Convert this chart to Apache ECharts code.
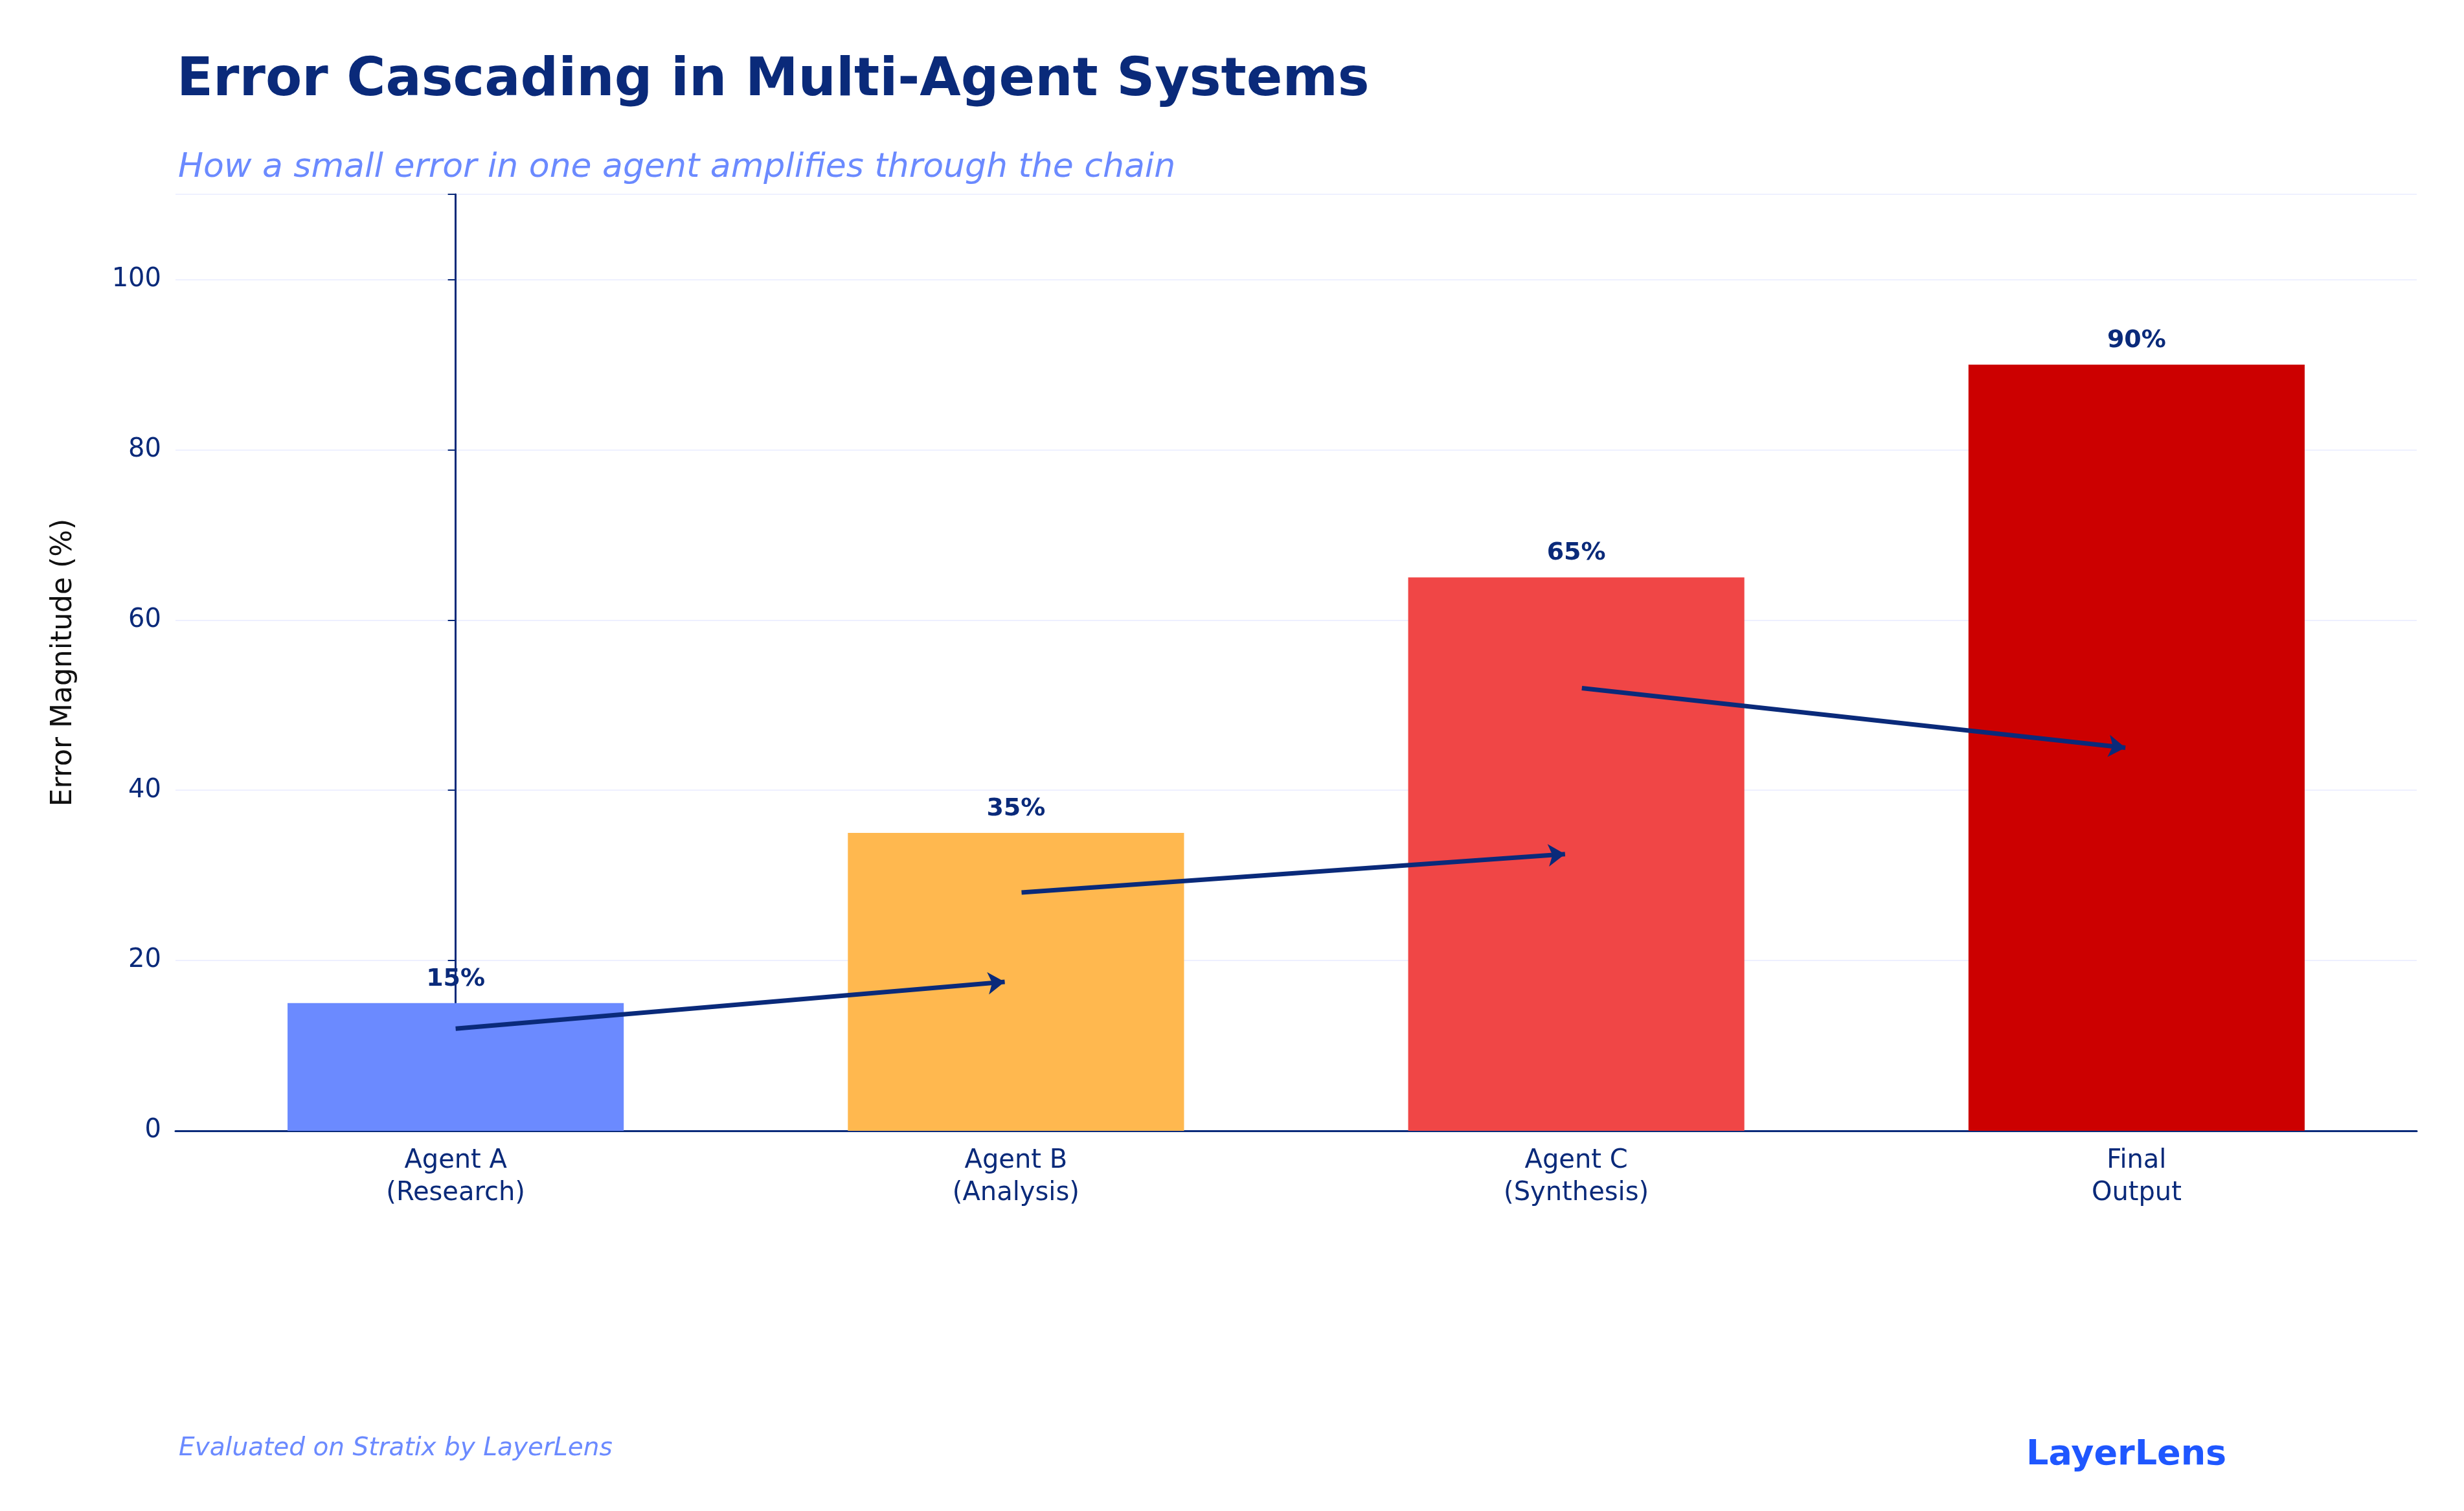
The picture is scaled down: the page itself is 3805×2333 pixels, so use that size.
<!DOCTYPE html>
<html><head><meta charset="utf-8">
<script src="https://cdn.jsdelivr.net/npm/echarts@6/dist/echarts.min.js"></script>
<style>html,body{margin:0;padding:0;background:#fff}#c{width:3805px;height:2333px}</style>
</head><body><div id="c"></div>
<script>
const categories = ['Agent A\n(Research)', 'Agent B\n(Analysis)', 'Agent C\n(Synthesis)', 'Final\nOutput'];
const errorValues = [15, 35, 65, 90];
const barColors = ['#6b8aff', '#ffb84f', '#f04646', '#cc0000'];
const arrowSegments = [
  [[0.0, 12], [0.98, 17.5]],
  [[1.01, 28], [1.98, 32.5]],
  [[2.01, 52], [2.98, 45]]
];
const navy = '#0a2a7a';
const chart = echarts.init(document.getElementById('c'));
chart.setOption({
  backgroundColor: '#fff',
  animation: false,
  textStyle: {fontFamily: 'DejaVu Sans'},
  title: [
    {text: 'Error Cascading in Multi-Agent Systems', left: 268, top: 80,
     textStyle: {fontSize: 82, fontWeight: 'bold', color: navy, fontFamily: 'DejaVu Sans'}},
    {text: 'How a small error in one agent amplifies through the chain', left: 270, top: 228,
     textStyle: {fontSize: 52, fontStyle: 'italic', fontWeight: 'normal', color: '#6b8aff', fontFamily: 'DejaVu Sans'}},
    {text: 'Evaluated on Stratix by LayerLens', left: 271, top: 2212,
     textStyle: {fontSize: 39, fontStyle: 'italic', fontWeight: 'normal', color: '#6b8aff', fontFamily: 'DejaVu Sans'}},
    {text: 'LayerLens', left: 3124, top: 2215,
     textStyle: {fontSize: 54, fontWeight: 'bold', color: '#1f57ff', fontFamily: 'DejaVu Sans'}}
  ],
  grid: {left: 271, right: 73, top: 300, bottom: 587},
  xAxis: [
    {type: 'category', data: categories,
     axisLine: {lineStyle: {color: navy, width: 3}},
     axisTick: {alignWithLabel: true, length: 12, lineStyle: {color: navy, width: 2}},
     axisLabel: {fontSize: 40, color: navy, lineHeight: 50, margin: 22}},
    {type: 'value', min: -0.5, max: 3.5, show: false}
  ],
  yAxis: {
    type: 'value', min: 0, max: 110, interval: 20,
    name: 'Error Magnitude (%)', nameLocation: 'middle', nameGap: 150, nameRotate: 90,
    nameTextStyle: {fontSize: 44, color: '#111'},
    axisLine: {show: true, lineStyle: {color: navy, width: 3}},
    axisTick: {show: true, length: 12, lineStyle: {color: navy, width: 2}},
    axisLabel: {fontSize: 40, color: navy, margin: 22,
      formatter: v => v > 100 ? '' : v},
    splitLine: {lineStyle: {color: '#eef0ff', width: 2}}
  },
  series: [
    {type: 'bar', data: errorValues.map((v, i) => ({value: v, itemStyle: {color: barColors[i]}})),
     barWidth: '60%',
     label: {show: true, position: 'top', distance: 18, formatter: '{c}%',
       fontSize: 38, fontWeight: 'bold', color: navy}},
    {type: 'lines', coordinateSystem: 'cartesian2d', xAxisIndex: 1, yAxisIndex: 0,
     symbol: ['none', 'arrow'], symbolSize: 26, z: 5,
     lineStyle: {color: navy, width: 7, opacity: 1},
     data: arrowSegments.map(s => ({coords: s}))}
  ]
});
</script></body></html>
